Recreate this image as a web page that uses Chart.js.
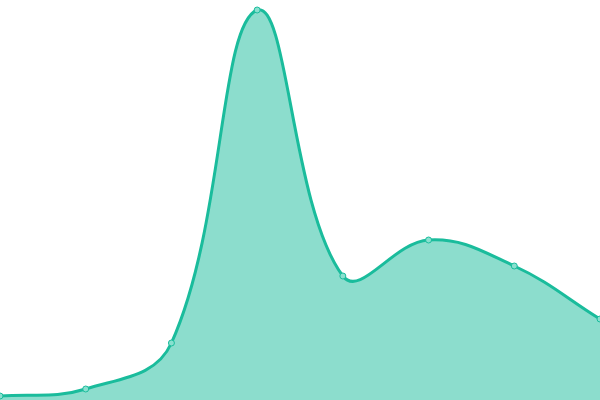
<!DOCTYPE html>
<html>
<head>
<meta charset="utf-8">
<script src="https://cdn.jsdelivr.net/npm/chart.js@4"></script>
<style>
  html, body { margin: 0; padding: 0; background: #fff; }
  #wrap { width: 600px; height: 400px; }
</style>
</head>
<body>
<div id="wrap"><canvas id="areaChart"></canvas></div>
<script>
// Data
const labels = ['1', '2', '3', '4', '5', '6', '7', '8'];
const values = [4, 11, 57, 390, 124, 160, 134, 81];
const yMin = 0;
const yMax = 400;

const ctx = document.getElementById('areaChart').getContext('2d');
new Chart(ctx, {
    type: 'line',
    data: {
        labels: labels,
        datasets: [{
            data: values,
            borderColor: '#1abc9c',
            backgroundColor: 'rgba(26, 188, 156, 0.5)',
            borderWidth: 3,
            fill: true,
            tension: 0.4,
            pointRadius: 3,
            pointBorderWidth: 1,
            pointBackgroundColor: 'rgba(137, 224, 207, 1)',
            pointBorderColor: '#1abc9c'
        }]
    },
    options: {
        responsive: true,
        maintainAspectRatio: false,
        animation: false,
        layout: { padding: 0, autoPadding: false },
        plugins: {
            legend: { display: false },
            tooltip: { enabled: false }
        },
        scales: {
            x: { display: false },
            y: { display: false, min: yMin, max: yMax }
        }
    }
});
</script>
</body>
</html>
